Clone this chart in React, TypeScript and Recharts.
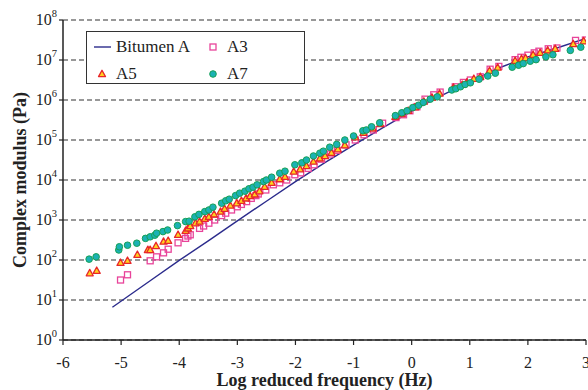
import React from 'react';
import { ComposedChart, Scatter, XAxis, YAxis, CartesianGrid, Legend } from 'recharts';

const FONT = '"Liberation Serif", "Times New Roman", serif';

// Bitumen A (master curve)
const bitumenFreq = [-5.15, -4.5, -4, -3.5, -3, -2.5, -2, -1.5, -1, -0.5, 0, 0.5, 1, 1.5, 2, 2.5, 2.96];
const bitumenModulus = [6.6, 30.2, 97.7, 302, 955, 2950, 9120, 26900, 74100, 200000, 525000, 1260000, 2820000, 6310000, 12000000, 20000000, 33100000];

// A3 (squares)
const a3Freq = [-5.01, -4.89, -4.5, -4.39, -4.27, -4.19, -4.02, -3.89, -3.85, -3.81, -3.65, -3.58, -3.49, -3.39, -3.27, -3.2, -3.1, -3.0, -2.93, -2.84, -2.76, -2.68, -2.64, -2.51, -2.38, -2.27, -2.15, -2.01, -1.91, -1.78, -1.68, -1.55, -1.4, -1.28, -1.13, -0.97, -0.82, -0.66, -0.5, -0.27, -0.14, -0.03, 0.09, 0.23, 0.38, 0.49, 0.75, 0.89, 1.01, 1.18, 1.35, 1.5, 1.78, 1.88, 2.0, 2.11, 2.19, 2.35, 2.5, 2.82, 2.99];
const a3Modulus = [31.6, 42.7, 95.5, 120, 151, 186, 269, 347, 398, 427, 617, 708, 832, 1000, 1290, 1480, 1780, 2140, 2450, 2880, 3470, 4070, 4470, 5620, 7590, 8510, 10000, 13500, 15100, 19500, 24000, 33100, 44700, 55000, 75900, 100000, 135000, 178000, 263000, 363000, 427000, 537000, 676000, 1050000, 1350000, 1580000, 2140000, 2750000, 3160000, 3800000, 5890000, 6920000, 10200000, 11700000, 13200000, 15100000, 16600000, 19100000, 20000000, 30900000, 31600000];

// A5 (triangles)
const a5Freq = [-5.54, -5.42, -5.01, -4.89, -4.72, -4.54, -4.5, -4.4, -4.27, -4.19, -4.02, -3.89, -3.85, -3.81, -3.72, -3.65, -3.56, -3.49, -3.4, -3.29, -3.22, -3.12, -3.01, -2.93, -2.85, -2.78, -2.7, -2.62, -2.53, -2.41, -2.27, -2.18, -2.03, -1.92, -1.81, -1.69, -1.58, -1.49, -1.38, -1.27, -1.15, -0.97, -0.83, -0.67, -0.54, -0.28, -0.17, -0.06, 0.06, 0.21, 0.35, 0.48, 0.72, 0.87, 0.95, 1.07, 1.18, 1.34, 1.48, 1.78, 1.89, 1.96, 2.09, 2.21, 2.34, 2.47, 2.78, 2.96];
const a5Modulus = [46.8, 53.7, 85.1, 95.5, 135, 178, 178, 224, 288, 302, 427, 537, 617, 708, 832, 912, 1070, 1200, 1380, 1620, 1910, 2290, 2630, 3020, 3470, 3980, 4370, 5250, 6760, 8510, 10500, 12000, 16200, 18600, 22400, 28800, 34700, 39800, 47900, 58900, 74100, 117000, 151000, 195000, 251000, 380000, 447000, 537000, 661000, 912000, 1150000, 1450000, 2040000, 2400000, 2750000, 3390000, 3800000, 5370000, 6460000, 9550000, 10700000, 11200000, 13500000, 15100000, 17400000, 19100000, 25100000, 29500000];

// A7 (circles)
const a7Freq = [-5.55, -5.43, -5.04, -5.03, -4.89, -4.73, -4.58, -4.5, -4.42, -4.39, -4.28, -4.2, -4.03, -3.89, -3.83, -3.73, -3.66, -3.56, -3.49, -3.42, -3.27, -3.2, -3.14, -3.03, -2.96, -2.87, -2.8, -2.73, -2.66, -2.55, -2.5, -2.41, -2.27, -2.18, -2.01, -1.89, -1.81, -1.69, -1.58, -1.52, -1.41, -1.29, -1.15, -1.0, -0.84, -0.78, -0.69, -0.55, -0.28, -0.17, -0.08, 0.02, 0.12, 0.2, 0.32, 0.44, 0.69, 0.76, 0.84, 0.92, 1.01, 1.16, 1.31, 1.44, 1.73, 1.84, 1.92, 2.04, 2.14, 2.31, 2.43, 2.73, 2.91];
const a7Modulus = [105, 120, 178, 214, 234, 263, 347, 380, 417, 468, 513, 562, 724, 912, 933, 1200, 1380, 1620, 1780, 2090, 2630, 3020, 3310, 4070, 4680, 5250, 6030, 6610, 7590, 9120, 10000, 11750, 14800, 16600, 24000, 26900, 31600, 39800, 46800, 52500, 66100, 77600, 100000, 126000, 170000, 178000, 214000, 269000, 407000, 479000, 537000, 646000, 741000, 871000, 1050000, 1200000, 1780000, 1910000, 2140000, 2450000, 2690000, 3310000, 3980000, 4680000, 6610000, 7410000, 8130000, 9330000, 10200000, 12000000, 13500000, 17400000, 20900000];

const xTicks = [-6, -5, -4, -3, -2, -1, 0, 1, 2, 3];
const yTicks = [1, 10, 100, 1000, 10000, 100000, 1000000, 10000000, 100000000];
const xMinorTicks = Array.from({ length: 46 }, (_, i) => Math.round((-6 + i * 0.2) * 10) / 10);
const yMinorTicks: number[] = [];
for (let e = 0; e < 8; e++) for (let m = 2; m <= 9; m++) yMinorTicks.push(m * Math.pow(10, e));

const zip = (xs: number[], ys: number[]) => xs.map((x, i) => ({ x, y: ys[i] }));
const bitumenData = zip(bitumenFreq, bitumenModulus);
const a3Data = zip(a3Freq, a3Modulus);
const a5Data = zip(a5Freq, a5Modulus);
const a7Data = zip(a7Freq, a7Modulus);

const INK = '#222';
const LINE_COLOR = '#2B2B8C';
const SQ_COLOR = '#E8449A';
const TRI_FILL = '#FFD21F';
const TRI_STROKE = '#E8262A';
const CIR_FILL = '#1BB2B4';
const CIR_STROKE = '#16A055';

const Square = (props: any) => {
  const { cx, cy } = props;
  if (cx == null || cy == null) return <g />;
  return <rect x={cx - 3} y={cy - 3} width={6} height={6} fill="none" stroke={SQ_COLOR} strokeWidth={1.3} />;
};
const Triangle = (props: any) => {
  const { cx, cy } = props;
  if (cx == null || cy == null) return <g />;
  return (
    <polygon
      points={`${cx},${cy - 3.8} ${cx + 3.5},${cy + 2.6} ${cx - 3.5},${cy + 2.6}`}
      fill={TRI_FILL}
      stroke={TRI_STROKE}
      strokeWidth={1.3}
      strokeLinejoin="round"
    />
  );
};
const Circle = (props: any) => {
  const { cx, cy } = props;
  if (cx == null || cy == null) return <g />;
  return <circle cx={cx} cy={cy} r={3.3} fill={CIR_FILL} stroke={CIR_STROKE} strokeWidth={1} />;
};
const NoShape = () => <g />;

const YTick = (props: any) => {
  const { x, y, payload } = props;
  const exp = Math.round(Math.log10(payload.value));
  return (
    <text x={x} y={y + 5.3} textAnchor="end" fontFamily={FONT} fontSize={16} fill={INK}>
      10<tspan dy={-8} fontSize={10.5}>{exp}</tspan>
    </text>
  );
};

const XTick = (props: any) => {
  const { x, y, payload } = props;
  return (
    <text x={x} y={y + 21} textAnchor="middle" fontFamily={FONT} fontSize={16} fill={INK}>
      {String(payload.value)}
    </text>
  );
};

const XTitle = (props: any) => {
  const vb = props.viewBox || { x: 63, y: 340, width: 523, height: 50 };
  return (
    <text x={vb.x + vb.width / 2} y={386} textAnchor="middle" fontFamily={FONT} fontWeight="bold" fontSize={18} fill={INK}>
      Log reduced frequency (Hz)
    </text>
  );
};

const YTitle = (props: any) => {
  const vb = props.viewBox || { x: 0, y: 20, width: 63, height: 320 };
  const cx = 20;
  const cy = vb.y + vb.height / 2;
  return (
    <text
      x={cx}
      y={cy}
      transform={`rotate(-90 ${cx} ${cy})`}
      textAnchor="middle"
      dominantBaseline="central"
      fontFamily={FONT}
      fontWeight="bold"
      fontSize={18}
      fill={INK}
    >
      Complex modulus (Pa)
    </text>
  );
};

const legendItems = [
  { name: 'Bitumen A', kind: 'line', left: 6, top: 15 },
  { name: 'A3', kind: 'square', left: 117, top: 15 },
  { name: 'A5', kind: 'triangle', left: 6, top: 42 },
  { name: 'A7', kind: 'circle', left: 117, top: 42 },
];

const LegendIcon = ({ kind }: { kind: string }) => (
  <svg width={18} height={10} style={{ display: 'block' }}>
    {kind === 'line' && <line x1={1} y1={5} x2={18} y2={5} stroke={LINE_COLOR} strokeWidth={1.4} />}
    {kind === 'square' && <rect x={6} y={2} width={6} height={6} fill="none" stroke={SQ_COLOR} strokeWidth={1.3} />}
    {kind === 'triangle' && (
      <polygon points="9,1.2 12.5,7.6 5.5,7.6" fill={TRI_FILL} stroke={TRI_STROKE} strokeWidth={1.3} strokeLinejoin="round" />
    )}
    {kind === 'circle' && <circle cx={9} cy={5} r={3.3} fill={CIR_FILL} stroke={CIR_STROKE} strokeWidth={1} />}
  </svg>
);

const LegendBox = () => (
  <div
    style={{
      position: 'relative',
      width: 219,
      height: 53,
      border: '1.3px solid #333',
      background: '#fff',
      fontFamily: FONT,
      fontSize: 17,
      color: INK,
      boxSizing: 'border-box',
    }}
  >
    {legendItems.map((it) => (
      <div key={it.name} style={{ position: 'absolute', left: it.left, top: it.top - 10, height: 20, display: 'flex', alignItems: 'center', whiteSpace: 'nowrap' }}>
        <LegendIcon kind={it.kind} />
        <span style={{ marginLeft: 5, lineHeight: '20px' }}>{it.name}</span>
      </div>
    ))}
  </div>
);

export default function App() {
  return (
    <div style={{ position: 'absolute', left: 0, top: 0, background: '#fff' }}>
      <ComposedChart width={588} height={390} margin={{ top: 20, right: 2, bottom: 0, left: 0 }}>
        <CartesianGrid xAxisId="x" yAxisId="y" vertical={false} stroke="#333" strokeDasharray="5 3" strokeWidth={1.2} />
        <XAxis
          xAxisId="x"
          type="number"
          dataKey="x"
          domain={[-6, 3]}
          allowDataOverflow
          ticks={xTicks}
          interval={0}
          height={50}
          tickSize={5}
          tickLine={{ stroke: INK, strokeWidth: 1.2 }}
          axisLine={{ stroke: INK, strokeWidth: 1.5 }}
          tick={<XTick />}
          label={<XTitle />}
        />
        <XAxis
          xAxisId="xm"
          type="number"
          domain={[-6, 3]}
          allowDataOverflow
          ticks={xMinorTicks}
          interval={0}
          mirror
          tickSize={4}
          tick={false}
          axisLine={false}
          tickLine={{ stroke: INK, strokeWidth: 1.2 }}
        />
        <YAxis
          yAxisId="y"
          type="number"
          dataKey="y"
          scale="log"
          domain={[1, 100000000]}
          allowDataOverflow
          ticks={yTicks}
          interval={0}
          width={63}
          tickSize={4}
          tickLine={{ stroke: INK, strokeWidth: 1.2 }}
          axisLine={{ stroke: INK, strokeWidth: 1.5 }}
          tick={<YTick />}
          label={<YTitle />}
        />
        <YAxis
          yAxisId="ym"
          type="number"
          scale="log"
          domain={[1, 100000000]}
          allowDataOverflow
          ticks={yMinorTicks}
          interval={0}
          mirror
          tickSize={3}
          tick={false}
          axisLine={false}
          tickLine={{ stroke: INK, strokeWidth: 1 }}
        />
        <YAxis
          yAxisId="yr"
          orientation="right"
          type="number"
          scale="log"
          domain={[1, 100000000]}
          allowDataOverflow
          width={0}
          tick={false}
          tickLine={false}
          axisLine={{ stroke: INK, strokeWidth: 1.5 }}
        />
        <Legend
          layout="vertical"
          align="center"
          verticalAlign="middle"
          wrapperStyle={{ left: 86, top: 31, width: 219, height: 53 }}
          content={() => <LegendBox />}
        />
        <Scatter
          name="Bitumen A"
          xAxisId="x"
          yAxisId="y"
          data={bitumenData}
          line={{ stroke: LINE_COLOR, strokeWidth: 1.4 }}
          lineType="joint"
          shape={NoShape}
          isAnimationActive={false}
        />
        <Scatter name="A3" xAxisId="x" yAxisId="y" data={a3Data} shape={Square} isAnimationActive={false} />
        <Scatter name="A5" xAxisId="x" yAxisId="y" data={a5Data} shape={Triangle} isAnimationActive={false} />
        <Scatter name="A7" xAxisId="x" yAxisId="y" data={a7Data} shape={Circle} isAnimationActive={false} />
      </ComposedChart>
    </div>
  );
}
